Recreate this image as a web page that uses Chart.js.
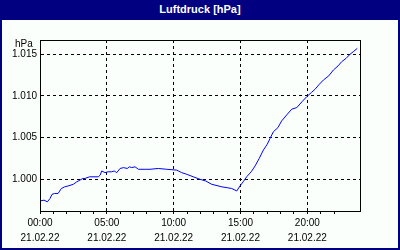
<!DOCTYPE html>
<html>
<head>
<meta charset="utf-8">
<script src="https://cdn.jsdelivr.net/npm/chart.js@4/dist/chart.umd.min.js"></script>
<style>
    html, body { margin: 0; padding: 0; background: #000080; }
    #box { position: relative; width: 400px; height: 250px; background: #000080; }
    #title {
        position: absolute; left: 0; top: 0; width: 400px; height: 20px;
        color: #fff; font: bold 11px "Liberation Sans", Arial, sans-serif;
        text-align: center; line-height: 19px;
    }
    #plot { position: absolute; left: 2px; top: 20px; width: 396px; height: 228px; background: #fbfffb; }
</style>
</head>
<body>
<div id="box">
    <div id="title">Luftdruck [hPa]</div>
    <div id="plot"><canvas id="chart" width="396" height="228"></canvas></div>
</div>
<script>
// time of day in hours (21.02.22) and air pressure in hPa
const hours = [0, 0.3, 0.55, 0.75, 0.9, 1.1, 1.35, 1.6, 1.85, 2.1, 2.49, 2.75, 2.99, 3.2, 3.37,
    3.7, 4.36, 4.5, 4.62, 4.86, 5.1, 5.36, 5.55, 5.74, 5.99, 6.25, 6.53, 6.7, 6.86, 7.11, 7.36,
    7.86, 8.23, 8.85, 9.48, 10.23, 10.6, 10.98, 11.47, 11.97, 12.4, 12.85, 13.6, 14.34, 14.72,
    14.96, 15.2, 15.46, 15.8, 16.09, 16.4, 16.71, 17.0, 17.21, 17.46, 17.8, 18.08, 18.5, 18.83,
    19.21, 19.6, 19.95, 20.3, 20.58, 20.9, 21.2, 21.6, 21.95, 22.3, 22.57, 22.9, 23.2, 23.44, 23.74];
const pressure = [997.4, 997.5, 997.3, 997.7, 998.2, 998.3, 998.3, 998.9, 999.1, 999.2, 999.4,
    999.7, 999.9, 1000.1, 1000.1, 1000.3, 1000.3, 1000.5, 1001.0, 1000.8, 1000.9, 1000.9,
    1001.0, 1000.8, 1001.3, 1001.4, 1001.3, 1001.5, 1001.4, 1001.5, 1001.2, 1001.2, 1001.2,
    1001.3, 1001.2, 1001.1, 1000.8, 1000.6, 1000.3, 1000.0, 999.8, 999.4, 999.1, 998.9, 998.6,
    999.2, 999.7, 1000.3, 1000.9, 1001.6, 1002.5, 1003.5, 1004.2, 1004.9, 1005.7, 1006.2,
    1007.0, 1007.8, 1008.4, 1008.6, 1009.3, 1009.9, 1010.4, 1010.8, 1011.4, 1011.9, 1012.4,
    1013.1, 1013.6, 1014.1, 1014.5, 1015.0, 1015.3, 1015.7];
const xTickLabels = { 0: '00:00', 5: '05:00', 10: '10:00', 15: '15:00', 20: '20:00' };
const dateLabel = '21.02.22';
const yTicks = [1000, 1005, 1010, 1015];
const unitLabel = 'hPa';

const font = { family: '"Liberation Sans", Arial, sans-serif', size: 10 };

const framePlugin = {
    id: 'frame',
    afterDraw(chart) {
        const { ctx, chartArea: a } = chart;
        ctx.save();
        ctx.strokeStyle = '#000';
        ctx.lineWidth = 1;
        ctx.strokeRect(Math.round(a.left) + 0.5, Math.round(a.top) + 0.5,
            Math.round(a.right - a.left), Math.round(a.bottom - a.top));
        ctx.fillStyle = '#000';
        ctx.font = '10px "Liberation Sans", Arial, sans-serif';
        ctx.textAlign = 'left';
        ctx.textBaseline = 'middle';
        ctx.fillText(unitLabel, 13, a.top + 4);
        ctx.restore();
    }
};

new Chart(document.getElementById('chart'), { // eslint-disable-line
    type: 'line',
    data: {
        datasets: [{
            data: hours.map((h, i) => ({ x: h, y: pressure[i] })),
            borderColor: '#0000ff',
            borderWidth: 1,
            pointRadius: 0,
            tension: 0
        }]
    },
    options: {
        responsive: false,
        animation: false,
        layout: { padding: { top: 20, right: 38, left: 0, bottom: 0 } },
        plugins: { legend: { display: false }, tooltip: { enabled: false } },
        scales: {
            x: {
                type: 'linear',
                min: 0,
                max: 23.94,
                afterBuildTicks: (scale) => {
                    scale.ticks = scale.ticks.filter(t => Number.isInteger(t.value));
                },
                afterFit: (scale) => { scale.height = 37; },
                ticks: {
                    stepSize: 1,
                    autoSkip: false,
                    maxRotation: 0,
                    padding: 2,
                    color: '#000',
                    font: { ...font, lineHeight: '15px' },
                    callback: (v) => (xTickLabels[v] ? [xTickLabels[v], dateLabel] : '')
                },
                grid: {
                    color: (c) => (c.tick && c.tick.value % 5 === 0 && c.tick.value > 0 ? '#000' : 'rgba(0,0,0,0)'),
                    tickColor: '#000',
                    tickLength: 3,
                    lineWidth: 1
                },
                border: { display: true, color: '#000', dash: [3, 3] }
            },
            y: {
                min: 996.2,
                max: 1016.7,
                afterBuildTicks: (scale) => {
                    scale.ticks = yTicks.map(v => ({ value: v }));
                },
                afterFit: (scale) => { scale.width = 38; },
                ticks: {
                    padding: 3,
                    color: '#000',
                    font,
                    callback: (v) => Math.floor(v / 1000) + '.' + String(v % 1000).padStart(3, '0')
                },
                grid: {
                    color: '#000',
                    drawTicks: false,
                    lineWidth: 1
                },
                border: { display: true, color: '#000', dash: [3, 3] }
            }
        }
    },
    plugins: [framePlugin]
});
</script>
</body>
</html>
